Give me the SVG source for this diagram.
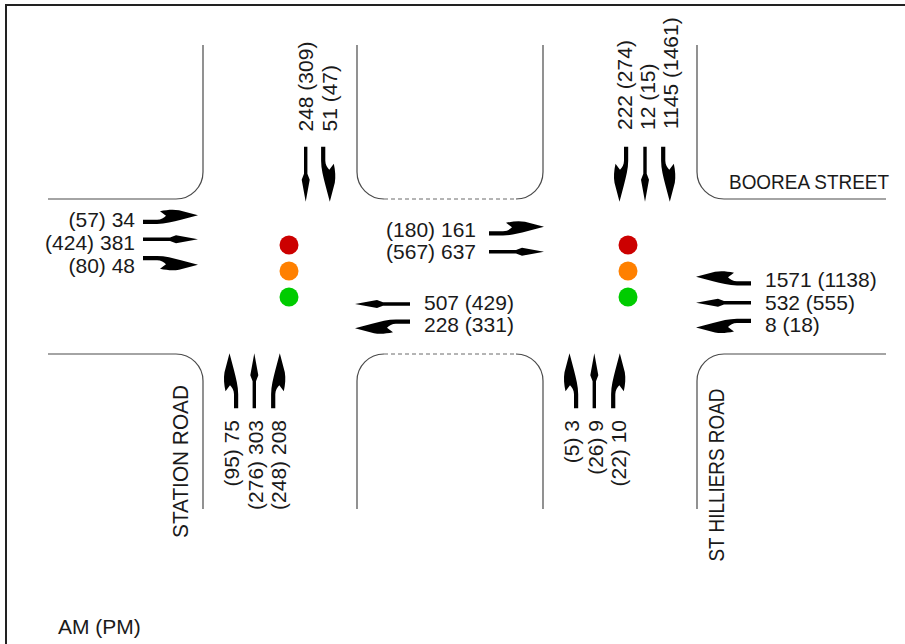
<svg xmlns="http://www.w3.org/2000/svg" xmlns:xlink="http://www.w3.org/1999/xlink" width="905" height="644" viewBox="0 0 905 644">
<style>
  .road{fill:none;stroke:#4a4a4a;stroke-width:1.2}
  .dash{fill:none;stroke:#6a6a6a;stroke-width:1;stroke-dasharray:4 3}
  .lbl{font-family:"Liberation Sans",Arial,sans-serif;font-size:21px;fill:#1a1a1a}
  .st{font-family:"Liberation Sans",Arial,sans-serif;font-size:21px;fill:#1a1a1a}
  .arr{fill:#000}
</style>
<defs>
  <path id="aS" d="M0,-1.7 L27,-1.7 L33,-4 L55,0 L33,4 L27,1.7 L0,1.7 Z"/>
  <path id="aL" d="M0,-2 L14,-2 C18,-2 21,-4 23,-6 L17,-10.5 C24,-12 30,-12.5 36,-11.5 L55,-6.5 L38,-2 C30,0 22,2.2 14,2.2 L0,2.2 Z"/>
  <path id="aR" d="M0,2 L14,2 C18,2 21,4 23,6 L17,10.5 C24,12 30,12.5 36,11.5 L55,6.5 L38,2 C30,0 22,-2.2 14,-2.2 L0,-2.2 Z"/>
</defs>
<rect width="905" height="644" fill="#fff"/>
<path d="M6,644 V5 H905" fill="none" stroke="#222" stroke-width="2"/>

<g id="roads">
  <path class="road" d="M203,45 V172 A27,27 0 0 1 176,199 H48"/>
  <path class="road" d="M357,45 V172 A27,27 0 0 0 384,199"/>
  <path class="dash" d="M384,199 H516"/>
  <path class="road" d="M516,199 A27,27 0 0 0 543,172 V45"/>
  <path class="road" d="M697,45 V172 A27,27 0 0 0 724,199 H886"/>
  <path class="road" d="M48,354 H176 A27,27 0 0 1 203,381 V509"/>
  <path class="road" d="M357,509 V381 A27,27 0 0 1 384,354"/>
  <path class="dash" d="M384,354 H516"/>
  <path class="road" d="M516,354 A27,27 0 0 1 543,381 V509"/>
  <path class="road" d="M697,509 V381 A27,27 0 0 1 724,354 H886"/>
</g>

<g id="signal-west">
  <circle cx="289" cy="245" r="9.5" fill="#cc0000"/>
  <circle cx="289" cy="271" r="9.5" fill="#ff8000"/>
  <circle cx="289" cy="297" r="9.5" fill="#00cc00"/>
</g>
<g id="signal-east">
  <circle cx="628" cy="245" r="9.5" fill="#cc0000"/>
  <circle cx="628" cy="271" r="9.5" fill="#ff8000"/>
  <circle cx="628" cy="297" r="9.5" fill="#00cc00"/>
</g>

<g id="connectors" class="arr">
  <!-- west approach, eastbound -->
  <use xlink:href="#aL" transform="translate(143,221.7)"/>
  <use xlink:href="#aS" transform="translate(143,239.3)"/>
  <use xlink:href="#aR" transform="translate(143,258.3)"/>
  <!-- centre eastbound -->
  <use xlink:href="#aL" transform="translate(489,233.3)"/>
  <use xlink:href="#aS" transform="translate(489,251.7)"/>
  <!-- centre westbound -->
  <use xlink:href="#aS" transform="translate(410,304) rotate(180)"/>
  <use xlink:href="#aL" transform="translate(410,321.7) rotate(180)"/>
  <!-- east approach, westbound -->
  <use xlink:href="#aR" transform="translate(751,283.3) rotate(180)"/>
  <use xlink:href="#aS" transform="translate(751,302.7) rotate(180)"/>
  <use xlink:href="#aL" transform="translate(751,321) rotate(180)"/>
  <!-- north approach, Station Road side -->
  <use xlink:href="#aS" transform="translate(305.7,146.7) rotate(90)"/>
  <use xlink:href="#aL" transform="translate(323.3,146.7) rotate(90)"/>
  <!-- north approach, Boorea Street side -->
  <use xlink:href="#aR" transform="translate(626,146.7) rotate(90)"/>
  <use xlink:href="#aS" transform="translate(645,146.7) rotate(90)"/>
  <use xlink:href="#aL" transform="translate(663.3,146.7) rotate(90)"/>
  <!-- south approach, Station Road -->
  <use xlink:href="#aL" transform="translate(236,408.3) rotate(-90)"/>
  <use xlink:href="#aS" transform="translate(254.3,408.3) rotate(-90)"/>
  <use xlink:href="#aR" transform="translate(273.3,408.3) rotate(-90)"/>
  <!-- south approach, St Hilliers Road -->
  <use xlink:href="#aL" transform="translate(576,408.3) rotate(-90)"/>
  <use xlink:href="#aS" transform="translate(594.3,408.3) rotate(-90)"/>
  <use xlink:href="#aR" transform="translate(613.3,408.3) rotate(-90)"/>
</g>

<g id="labels-west" class="lbl" text-anchor="end">
  <text x="135" y="227">(57) 34</text>
  <text x="135" y="249.5">(424) 381</text>
  <text x="135" y="272.5">(80) 48</text>
</g>
<g id="labels-centre-east" class="lbl" text-anchor="end">
  <text x="476" y="236.5">(180) 161</text>
  <text x="476" y="258.5">(567) 637</text>
</g>
<g id="labels-centre-west" class="lbl">
  <text x="424" y="309.5">507 (429)</text>
  <text x="424" y="331.7">228 (331)</text>
</g>
<g id="labels-east" class="lbl">
  <text x="765" y="286.7">1571 (1138)</text>
  <text x="765" y="309.5">532 (555)</text>
  <text x="765" y="332">8 (18)</text>
</g>
<g id="labels-north" class="lbl">
  <text transform="translate(313,131.5) rotate(-90)">248 (309)</text>
  <text transform="translate(336.5,131.5) rotate(-90)">51 (47)</text>
  <text transform="translate(631.5,130) rotate(-90)">222 (274)</text>
  <text transform="translate(654.5,130) rotate(-90)">12 (15)</text>
  <text transform="translate(677.5,129) rotate(-90)">1145 (1461)</text>
</g>
<g id="labels-south" class="lbl" text-anchor="end">
  <text transform="translate(239,420) rotate(-90)">(95) 75</text>
  <text transform="translate(262.5,420) rotate(-90)">(276) 303</text>
  <text transform="translate(286,420) rotate(-90)">(248) 208</text>
  <text transform="translate(579,420) rotate(-90)">(5) 3</text>
  <text transform="translate(602.5,420) rotate(-90)">(26) 9</text>
  <text transform="translate(626,420) rotate(-90)">(22) 10</text>
</g>
<g id="street-names" class="st">
  <text x="729" y="189" textLength="160" lengthAdjust="spacingAndGlyphs" font-size="21">BOOREA STREET</text>
  <text transform="translate(188,538) rotate(-90)" textLength="153" lengthAdjust="spacingAndGlyphs" font-size="22">STATION ROAD</text>
  <text transform="translate(724,561.5) rotate(-90)" textLength="173" lengthAdjust="spacingAndGlyphs" font-size="22">ST HILLIERS ROAD</text>
  <text x="58" y="633.5">AM (PM)</text>
</g>
</svg>
